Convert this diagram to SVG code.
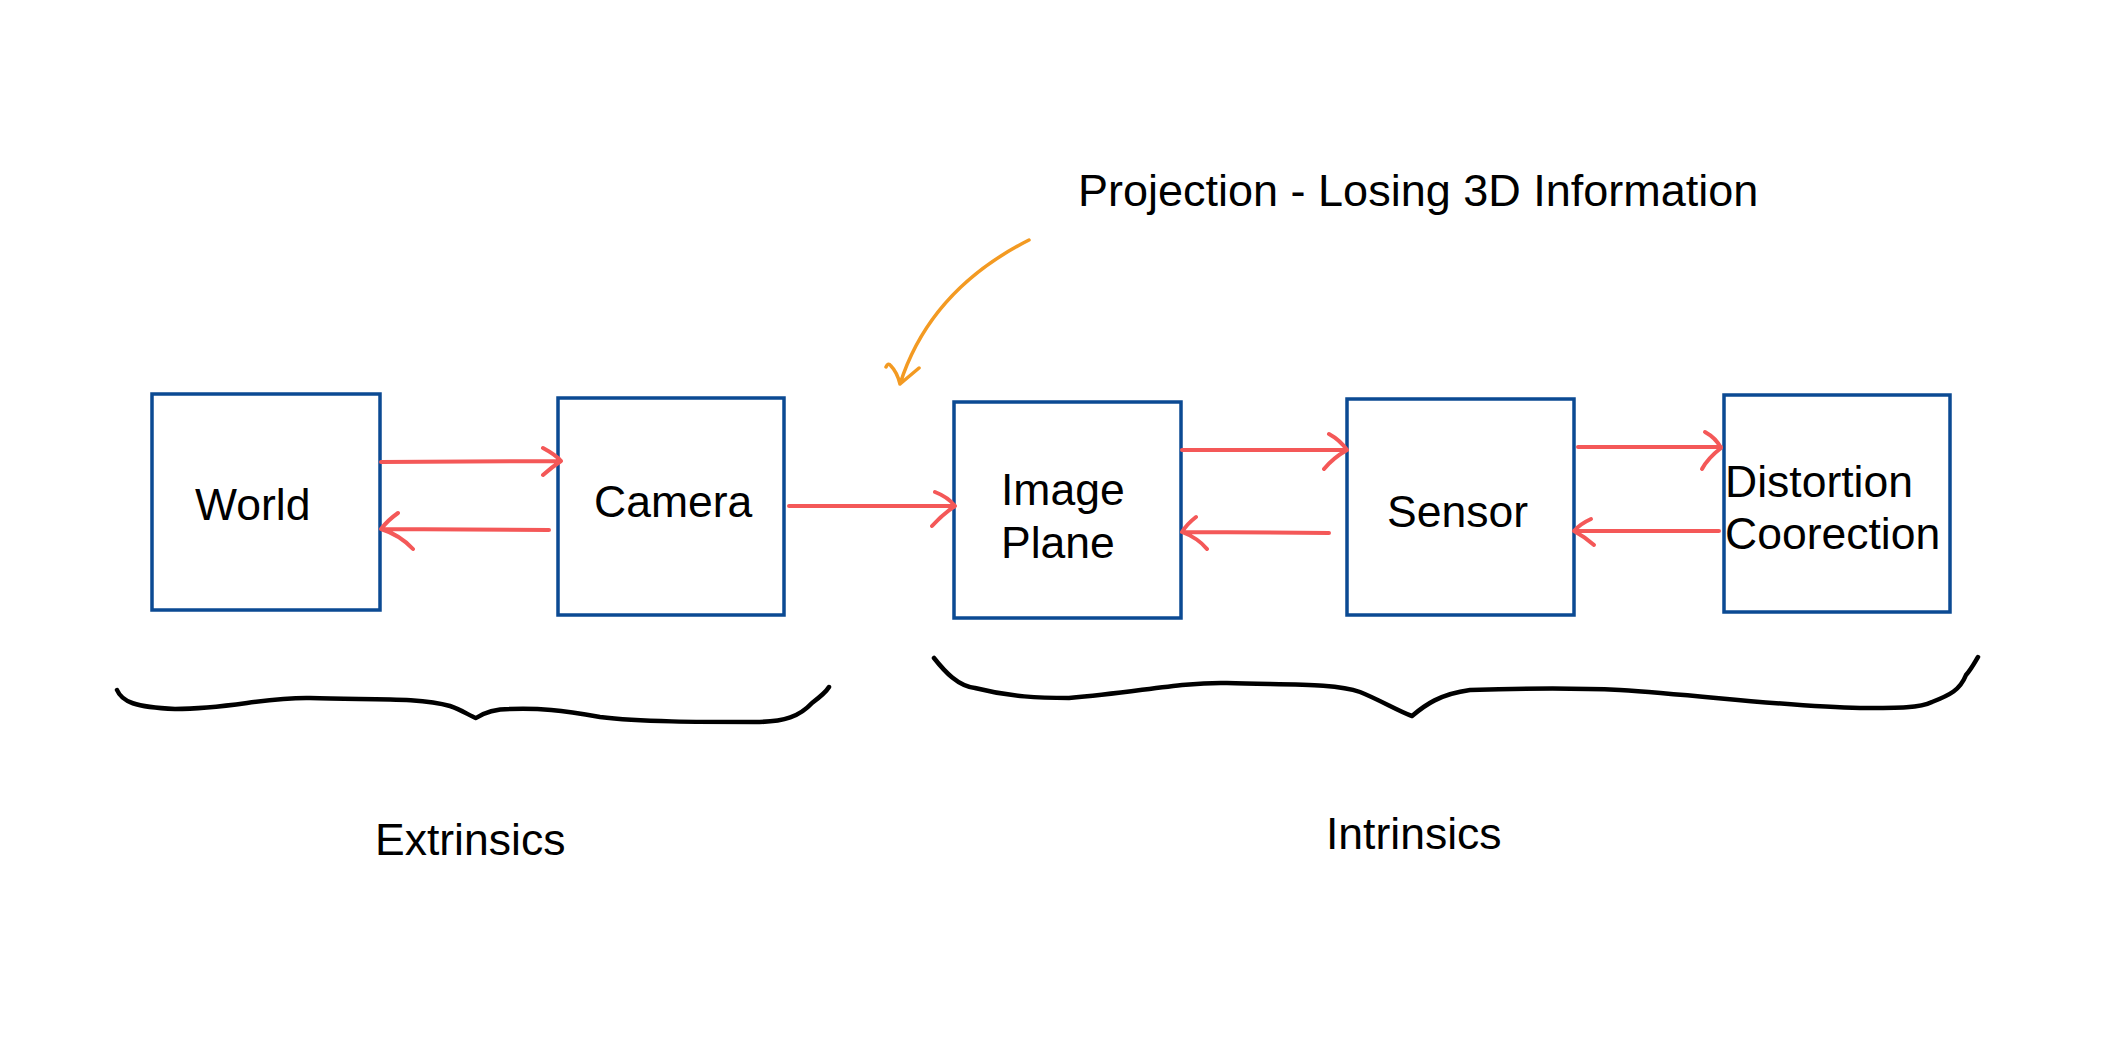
<svg xmlns="http://www.w3.org/2000/svg" width="2113" height="1060" viewBox="0 0 2113 1060">
<style>
.box{fill:#ffffff;stroke:#0b4a93;stroke-width:3.5}
.lbl{font-family:"Liberation Sans",Arial,sans-serif;font-size:44.5px;fill:#000}
.ttl{font-size:45px}
.red{fill:none;stroke:#f45858;stroke-width:4;stroke-linecap:round;stroke-linejoin:round}
.org{fill:none;stroke:#f39a22;stroke-width:3.5;stroke-linecap:round;stroke-linejoin:round}
.brace{fill:none;stroke:#000;stroke-width:4.5;stroke-linecap:round;stroke-linejoin:round}
</style>
<rect width="2113" height="1060" fill="#ffffff"/>
<g id="world"><rect class="box" x="152" y="394" width="228" height="216"/><text class="lbl" x="195" y="520">World</text></g>
<g id="camera"><rect class="box" x="558" y="398" width="226" height="217"/><text class="lbl" x="594" y="517">Camera</text></g>
<g id="image-plane"><rect class="box" x="954" y="402" width="227" height="216"/><text class="lbl" x="1001" y="505">Image</text><text class="lbl" x="1001" y="558">Plane</text></g>
<g id="sensor"><rect class="box" x="1347" y="399" width="227" height="216"/><text class="lbl" x="1387" y="527">Sensor</text></g>
<g id="distortion"><rect class="box" x="1724" y="395" width="226" height="217"/><text class="lbl" x="1725" y="497">Distortion</text><text class="lbl" x="1725" y="549">Coorection</text></g>
<g id="title"><text class="lbl ttl" x="1078" y="206">Projection - Losing 3D Information</text></g>
<g id="extrinsics"><path class="brace" d="M117,690 C122,702 135,707 175,709 C230,709 265,697 310,698 C370,700 420,697 450,706 C462,710 470,716 476,718 C485,712 495,709 510,709 C540,708 560,710 600,717 C640,722 700,722 755,722 C785,722 800,716 812,703 C820,697 826,692 829,687"/><text class="lbl" x="375" y="855">Extrinsics</text></g>
<g id="intrinsics"><path class="brace" d="M934,658 C945,672 958,686 975,688 C1010,697 1040,698 1069,698 C1140,692 1180,682 1227,683 C1290,685 1335,683 1360,692 C1380,700 1400,712 1412,716 C1425,705 1440,694 1470,690 C1530,688 1580,688 1620,690 C1700,695 1790,707 1860,708 C1900,708 1920,708 1932,702 C1950,695 1960,690 1966,675 C1972,668 1976,660 1978,657"/><text class="lbl" x="1326" y="849">Intrinsics</text></g>
<g id="connectors">
<path class="red" d="M381,462 L561,461 M543,448 Q556,455 561,461 Q552,467 543,475"/>
<path class="red" d="M549,530 L381,529 M398,513 Q388,520 381,529 Q400,535 413,549"/>
<path class="red" d="M789,506 L955,506 M935,492 Q948,497 955,506 Q943,514 932,526"/>
<path class="red" d="M1182,450 L1347,450 M1329,434 Q1340,440 1347,450 Q1333,458 1324,469"/>
<path class="red" d="M1329,533 L1182,532 M1196,517 Q1187,524 1182,532 Q1198,538 1207,549"/>
<path class="red" d="M1578,447 L1721,447 M1705,432 Q1716,438 1721,448 Q1708,458 1702,469"/>
<path class="red" d="M1719,531 L1574,531 M1591,519 Q1580,524 1574,531 Q1585,537 1594,545"/>
<path class="org" d="M1029,240 Q930,290 900,384 M886,367 Q888,362 891,366 Q897,372 900,384 L919,368"/>
</g>
</svg>
